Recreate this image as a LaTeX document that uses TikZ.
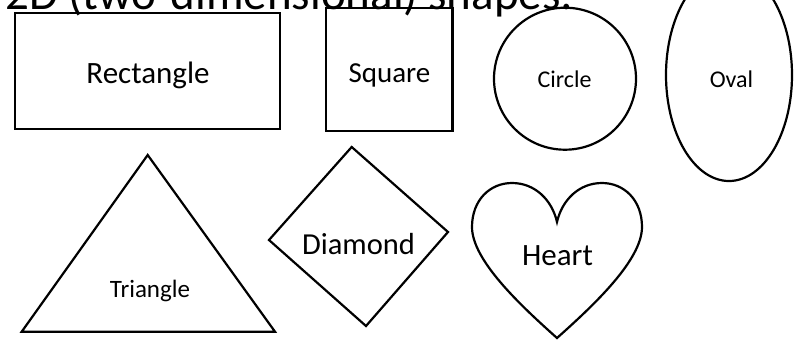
\documentclass[tikz,border=0pt]{standalone}
\usepackage{fontspec}
\setmainfont{Carlito}
\begin{document}
\begin{tikzpicture}[x=1pt,y=-1pt,
  shapeline/.style={draw=black,line width=2.2pt,line join=miter},
  lbl/.style={inner sep=0pt,anchor=base,text=black}]
\useasboundingbox (0,0) rectangle (801,349);
\clip (0,0) rectangle (801,349);
% title
\node[inner sep=0pt,anchor=base west] (title) at (5,9.5) {\fontsize{47}{47}\selectfont 2D (two-dimensional) shapes:};
% rectangle
\draw[shapeline] (15,13) rectangle (280,129);
\node[lbl] (rect) at (148,83) {\fontsize{31}{31}\selectfont Rectangle};
% square
\draw[shapeline] (326,8) rectangle (452.5,131);
\node[lbl] (square) at (389.5,82) {\fontsize{29}{29}\selectfont Square};
% circle
\draw[shapeline] (565,78.7) circle[radius=71];
\node[lbl] (circle) at (564.5,87) {\fontsize{24}{24}\selectfont Circle};
% oval
\draw[shapeline] (729,75) ellipse[x radius=63,y radius=106];
\node[lbl] (oval) at (731.5,87) {\fontsize{24}{24}\selectfont Oval};
% triangle
\draw[shapeline] (147.7,155) -- (275,331.7) -- (21.7,331.7) -- cycle;
\node[lbl] (tri) at (150,297) {\fontsize{25}{25}\selectfont Triangle};
% diamond
\draw[shapeline] (351.7,147) -- (448,232) -- (366,326) -- (269,240) -- cycle;
\node[lbl] (diamond) at (358.5,254) {\fontsize{30.5}{30.5}\selectfont Diamond};
% heart
\draw[shapeline] (557,338) .. controls (520,305) and (472,260) .. (472,227)
  .. controls (472,200) and (490,183) .. (512,183)
  .. controls (535,183) and (552,200) .. (557,222)
  .. controls (562,200) and (579,183) .. (602,183)
  .. controls (624,183) and (642,200) .. (642,227)
  .. controls (642,260) and (594,305) .. (557,338) -- cycle;
\node[lbl] (heart) at (557.5,265) {\fontsize{31}{31}\selectfont Heart};
\end{tikzpicture}
\end{document}
